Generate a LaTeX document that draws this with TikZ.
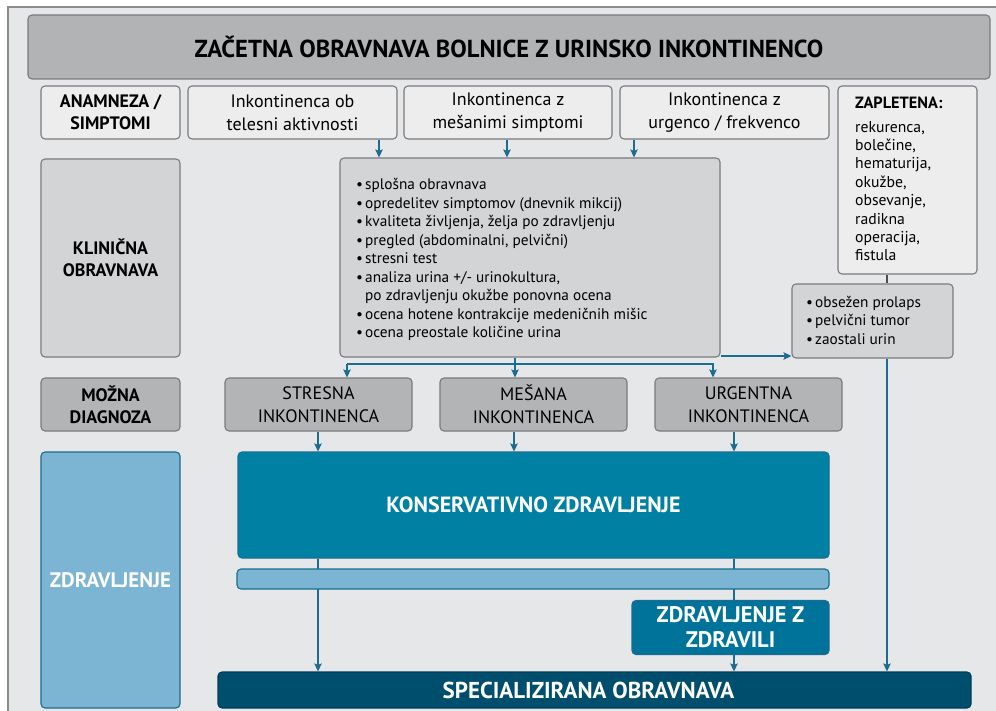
\documentclass[tikz,border=0pt]{standalone}
\usepackage{fontspec}
\setmainfont{PT Sans}
\usetikzlibrary{arrows.meta}
\definecolor{bg}{HTML}{E6E7E9}
\definecolor{framec}{HTML}{8C8C8C}
\definecolor{titlefill}{HTML}{B2B3B5}
\definecolor{boxborder}{HTML}{7A7B7D}
\definecolor{lightfill}{HTML}{EDEDEE}
\definecolor{midfill}{HTML}{D3D4D6}
\definecolor{diagfill}{HTML}{B3B4B6}
\definecolor{tealfill}{HTML}{0081A4}
\definecolor{drugfill}{HTML}{00739A}
\definecolor{navyfill}{HTML}{004E6E}
\definecolor{lbluefill}{HTML}{7BB5D3}
\definecolor{blueline}{HTML}{1B6C90}
\newcommand\bul{\makebox[9pt][l]{•}}
\tikzset{
  box/.style={draw=boxborder, line width=1.1pt, rounded corners=4pt, inner sep=0pt, align=center},
  lightbox/.style={box, fill=lightfill},
  midbox/.style={box, fill=midfill},
  diagbox/.style={box, fill=diagfill},
  bluebox/.style={draw=blueline, line width=1.1pt, rounded corners=4pt, inner sep=0pt, align=center, text=white},
  lbl/.style={font=\fontsize{18}{22}\selectfont\bfseries},
  rowtxt/.style={font=\fontsize{18}{23}\selectfont},
  listtxt/.style={font=\fontsize{15.3}{18.5}\selectfont, align=left, inner sep=0pt},
  con/.style={draw=blueline, line width=1.4pt},
  arr/.style={con, -{Stealth[length=8pt,width=7.5pt,inset=1.5pt]}},
  darkcon/.style={draw=black!70, line width=1.2pt},
}
\begin{document}
\begin{tikzpicture}[x=1pt,y=-1pt]
\useasboundingbox (0,0) rectangle (996,711);
\clip (0,0) rectangle (996,711);
\draw[fill=bg, draw=framec, line width=1.2pt] (8,7) rectangle (1010,730);

% title
\node[box, fill=titlefill, minimum width=962pt, minimum height=64pt,
      font=\fontsize{24.6}{28}\selectfont\bfseries] (title) at (509,47)
      {ZAČETNA OBRAVNAVA BOLNICE Z URINSKO INKONTINENCO};

% row 1
\node[lightbox, lbl, minimum width=139pt, minimum height=53pt] (anam) at (110.5,112.5) {ANAMNEZA /\\SIMPTOMI};
\node[lightbox, rowtxt, minimum width=209pt, minimum height=53pt] (r1a) at (292.5,112.5) {Inkontinenca ob\\telesni aktivnosti};
\node[lightbox, rowtxt, minimum width=208pt, minimum height=53pt] (r1b) at (508,112.5) {Inkontinenca z\\mešanimi simptomi};
\node[lightbox, rowtxt, minimum width=209pt, minimum height=53pt] (r1c) at (724.5,112.5) {Inkontinenca z\\urgenco / frekvenco};
\node[lightbox, minimum width=139pt, minimum height=188pt] (zap) at (907.5,180) {};
\node[anchor=north west, inner sep=0pt, font=\fontsize{16.3}{18}\selectfont\bfseries] (zapt) at (855,97) {ZAPLETENA:};
\node[listtxt, font=\fontsize{15.7}{18.4}\selectfont, anchor=north west] (zapl) at (855,121)
  {rekurenca,\\bolečine,\\hematurija,\\okužbe,\\obsevanje,\\radikna\\operacija,\\fistula};

% row 2
\node[midbox, lbl, minimum width=139pt, minimum height=198pt] (klin) at (110.5,258) {KLINIČNA\\OBRAVNAVA};
\node[midbox, minimum width=380pt, minimum height=199pt] (clin) at (530,257.5) {};
\node[listtxt, anchor=north west] (clinl) at (356,178.5)
  {\bul splošna obravnava\\
   \bul opredelitev simptomov (dnevnik mikcij)\\
   \bul kvaliteta življenja, želja po zdravljenju\\
   \bul pregled (abdominalni, pelvični)\\
   \bul stresni test\\
   \bul analiza urina +/- urinokultura,\\
   \hspace*{9pt}po zdravljenju okužbe ponovna ocena\\
   \bul ocena hotene kontrakcije medeničnih mišic\\
   \bul ocena preostale količine urina};
\node[midbox, minimum width=161pt, minimum height=74pt] (obs) at (872.5,321) {};
\node[listtxt, anchor=north west] (obsl) at (806,296)
  {\bul obsežen prolaps\\\bul pelvični tumor\\\bul zaostali urin};

% row 3
\node[diagbox, lbl, minimum width=139pt, minimum height=53pt] (mozna) at (110.5,404.5) {MOŽNA\\DIAGNOZA};
\node[diagbox, rowtxt, minimum width=187pt, minimum height=53pt] (stres) at (318.5,404.5) {STRESNA\\INKONTINENCA};
\node[diagbox, rowtxt, minimum width=187pt, minimum height=53pt] (mes) at (533.5,404.5) {MEŠANA\\INKONTINENCA};
\node[diagbox, rowtxt, minimum width=187pt, minimum height=53pt] (urg) at (748.5,404.5) {URGENTNA\\INKONTINENCA};

% treatment
\node[bluebox, fill=lbluefill, font=\fontsize{21}{24}\selectfont\bfseries, minimum width=139pt, minimum height=256pt] (zdr) at (110.5,580) {ZDRAVLJENJE};
\node[bluebox, fill=tealfill, font=\fontsize{22}{25}\selectfont\bfseries, minimum width=591pt, minimum height=106pt] (kons) at (533.5,505) {KONSERVATIVNO ZDRAVLJENJE};
\node[bluebox, fill=drugfill, font=\fontsize{22.5}{25}\selectfont\bfseries, minimum width=197pt, minimum height=54pt] (drug) at (730.5,627.5) {ZDRAVLJENJE Z\\ZDRAVILI};
\node[bluebox, fill=navyfill, draw=navyfill!80!black, font=\fontsize{23}{25}\selectfont\bfseries, minimum width=753pt, minimum height=36pt] (spec) at (594.5,690) {\hspace*{-12pt}SPECIALIZIRANA OBRAVNAVA};

% helper coordinates
\coordinate (xa) at (379,0);
\coordinate (xb) at (507,0);
\coordinate (xc) at (634,0);
\coordinate (xm) at (515,0);
\coordinate (xs) at (347,0);
\coordinate (xu) at (713,0);
\coordinate (yb) at (0,364);
\coordinate (yo) at (0,356);
\coordinate (xr) at (887,0);
\coordinate (x1) at (318,0);
\coordinate (x2) at (514,0);
\coordinate (x3) at (734,0);

% connectors
\draw[arr] (r1a.south -| xa) -- (clin.north -| xa);
\draw[arr] (r1b.south -| xb) -- (clin.north -| xb);
\draw[arr] (r1c.south -| xc) -- (clin.north -| xc);

\draw[con] (clin.south -| xm) -- (xm |- yb);
\draw[arr] (xm |- yb) -- (mes.north -| xm);
\draw[arr] (xs |- yb) -- (stres.north -| xs);
\draw[arr] (xs |- yb) -- (xu |- yb) -- (urg.north -| xu);
\draw[arr] (clin.east |- yo) -- (obs.west |- yo);

\draw[darkcon] (zap.south -| xr) -- (obs.north -| xr);
\draw[arr] (obs.south -| xr) -- (spec.north -| xr);

\draw[arr] (stres.south -| x1) -- (kons.north -| x1);
\draw[arr] (mes.south -| x2) -- (kons.north -| x2);
\draw[arr] (urg.south -| x3) -- (kons.north -| x3);

\draw[arr] (kons.south -| x1) -- (spec.north -| x1);
\draw[con] (kons.south -| x3) -- (drug.north -| x3);
\draw[arr] (drug.south -| x3) -- (spec.north -| x3);

% bar (drawn over the lines)
\node[bluebox, fill=lbluefill, minimum width=592pt, minimum height=20pt] (bar) at (533,579) {};
\end{tikzpicture}
\end{document}
